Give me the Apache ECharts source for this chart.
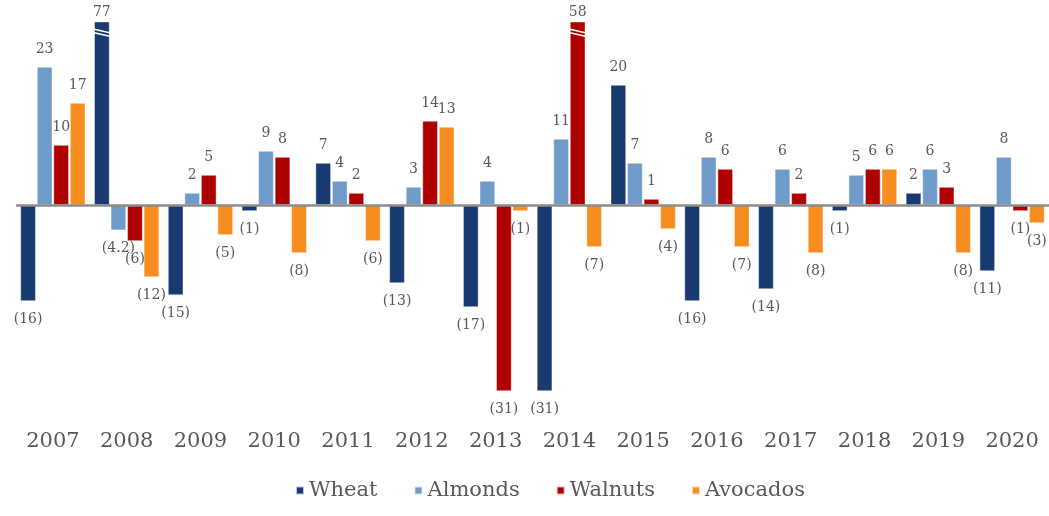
<!DOCTYPE html>
<html>
<head>
<meta charset="utf-8">
<script src="https://cdn.jsdelivr.net/npm/echarts@6/dist/echarts.min.js"></script>
<style>html,body{margin:0;padding:0;background:#fff}#c{width:1049px;height:516px}</style>
</head>
<body>
<div id="c"></div>
<script>
const years = ['2007','2008','2009','2010','2011','2012','2013','2014','2015','2016','2017','2018','2019','2020'];
const wheat    = [-16, 77, -15, -1, 7, -13, -17, -31, 20, -16, -14, -1, 2, -11];
const almonds  = [23, -4.2, 2, 9, 4, 3, 4, 11, 7, 8, 6, 5, 6, 8];
const walnuts  = [10, -6, 5, 8, 2, 14, -31, 58, 1, 6, 2, 6, 3, -1];
const avocados = [17, -12, -5, -8, -6, 13, -1, -7, -4, -7, -8, 6, -8, -3];
const seriesNames = ['Wheat','Almonds','Walnuts','Avocados'];
const colors = ['#173a70','#6f9bca','#ae0000','#f68d1f'];
const yMax = 30.5, yMin = -33;
const catGap = 0.12, barGapFrac = 0.08;

const FONT = '"DejaVu Serif", serif';
function fmt(v){ return v < 0 ? '(' + String(Math.abs(v)) + ')' : String(v); }

const allData = [wheat, almonds, walnuts, avocados];
// clipped bars: [category index, series index]
const breaks = [];
allData.forEach((arr, si) => arr.forEach((v, ci) => { if (v > yMax) breaks.push([ci, si]); }));

const series = allData.map((arr, si) => ({
  name: seriesNames[si],
  type: 'bar',
  clip: true,
  barGap: (barGapFrac*100) + '%',
  barCategoryGap: (catGap*100) + '%',
  itemStyle: { color: colors[si], borderColor: 'rgba(255,255,255,0.7)', borderWidth: 0.6 },
  data: arr.map(v => ({
    value: v,
    label: { position: v < 0 ? 'bottom' : 'top', distance: v > yMax ? 2 : 11 }
  })),
  label: {
    show: true,
    color: '#595959',
    fontFamily: FONT,
    fontSize: 14,
    formatter: p => fmt(p.value)
  },
  markLine: si === 0 ? {
    silent: true, symbol: 'none', label: { show: false },
    lineStyle: { color: '#8c8c8c', width: 2.5, type: 'solid' },
    data: [{ yAxis: 0 }], z: 10
  } : undefined
}));

series.push({
  type: 'custom',
  name: 'breaks',
  z: 20,
  data: breaks,
  renderItem: function (params, api) {
    const ci = api.value(0), si = api.value(1);
    const top = api.coord([ci, yMax]);
    const band = api.size([1, 0])[0];
    const bw = band * (1 - catGap) / (4 + 3 * barGapFrac);
    const step = bw * (1 + barGapFrac);
    const cx = top[0] + (si - 1.5) * step;
    const x0 = cx - bw / 2 - 1, x1 = cx + bw / 2 + 1;
    const y = top[1];
    return {
      type: 'group',
      children: [
        { type: 'line', shape: { x1: x0, y1: y + 7, x2: x1, y2: y + 11 }, style: { stroke: '#fff', lineWidth: 1.6 } },
        { type: 'line', shape: { x1: x0, y1: y + 10.5, x2: x1, y2: y + 14.5 }, style: { stroke: '#fff', lineWidth: 1.6 } }
      ]
    };
  }
});

const chart = echarts.init(document.getElementById('c'), null, { renderer: 'canvas' });
chart.setOption({
  animation: false,
  backgroundColor: '#fff',
  grid: { left: 16, right: -1, top: 22, bottom: 113, containLabel: false },
  legend: {
    data: seriesNames,
    bottom: 10,
    left: 290,
    icon: 'rect',
    itemWidth: 8,
    itemHeight: 8,
    itemGap: 36,
    textStyle: { color: '#595959', fontFamily: FONT, fontSize: 21 }
  },
  xAxis: {
    type: 'category',
    data: years,
    axisLine: { show: false },
    axisTick: { show: false },
    axisLabel: { color: '#595959', fontFamily: FONT, fontSize: 21, margin: 28 }
  },
  yAxis: {
    type: 'value',
    min: yMin,
    max: yMax,
    show: false,
    splitLine: { show: false }
  },
  series: series
});
</script>
</body>
</html>
